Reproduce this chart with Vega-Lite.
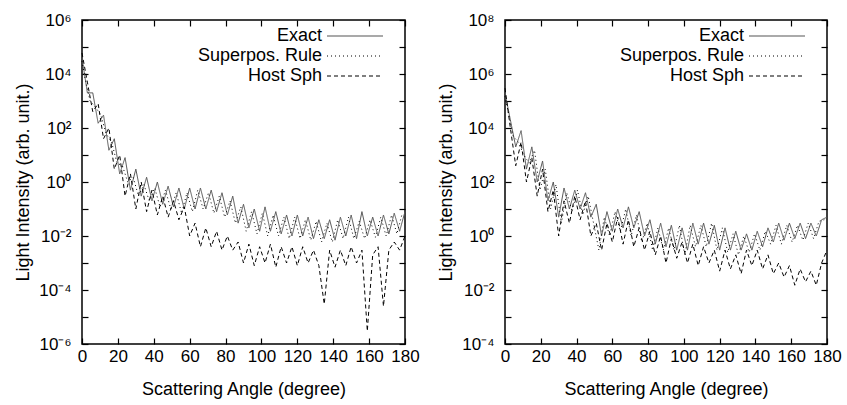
{
  "$schema": "https://vega.github.io/schema/vega-lite/v6.json",
  "padding": {"left": 14, "top": 10, "right": 5, "bottom": 5},
  "config": {
    "font": "Liberation Sans",
    "view": {"stroke": "black", "strokeWidth": 1.5},
    "axis": {"grid": false, "domain": false, "tickColor": "black", "tickSize": -6, "tickWidth": 1.2, "labelColor": "black", "labelFontSize": 17, "titleFontSize": 18, "titleFontWeight": "normal", "titleColor": "black", "labelOverlap": false, "labelFlush": false},
    "axisBottom": {"labelPadding": 10, "titlePadding": 16},
    "axisLeft": {"labelPadding": 17, "titlePadding": 6},
    "legend": {"labelFontSize": 18, "labelColor": "black"}
  },
  "datasets": {
    "left": [
      {"angle":0,"intensity":4e4,"series":"Exact"},{"angle":3,"intensity":2e3,"series":"Exact"},{"angle":6,"intensity":2e3,"series":"Exact"},{"angle":9,"intensity":150,"series":"Exact"},{"angle":12,"intensity":300,"series":"Exact"},{"angle":15,"intensity":15,"series":"Exact"},{"angle":18,"intensity":40,"series":"Exact"},{"angle":21,"intensity":2,"series":"Exact"},{"angle":24,"intensity":8,"series":"Exact"},{"angle":27,"intensity":0.5,"series":"Exact"},{"angle":30,"intensity":3,"series":"Exact"},{"angle":33,"intensity":0.3,"series":"Exact"},{"angle":36,"intensity":1.5,"series":"Exact"},{"angle":39,"intensity":0.2,"series":"Exact"},{"angle":42,"intensity":1,"series":"Exact"},{"angle":45,"intensity":0.15,"series":"Exact"},{"angle":48,"intensity":0.7,"series":"Exact"},{"angle":51,"intensity":0.12,"series":"Exact"},{"angle":54,"intensity":0.6,"series":"Exact"},{"angle":57,"intensity":0.1,"series":"Exact"},{"angle":60,"intensity":0.6,"series":"Exact"},{"angle":63,"intensity":0.1,"series":"Exact"},{"angle":66,"intensity":0.6,"series":"Exact"},{"angle":69,"intensity":0.1,"series":"Exact"},{"angle":72,"intensity":0.5,"series":"Exact"},{"angle":75,"intensity":0.08,"series":"Exact"},{"angle":78,"intensity":0.4,"series":"Exact"},{"angle":81,"intensity":0.06,"series":"Exact"},{"angle":84,"intensity":0.3,"series":"Exact"},{"angle":87,"intensity":0.03,"series":"Exact"},{"angle":90,"intensity":0.15,"series":"Exact"},{"angle":93,"intensity":0.02,"series":"Exact"},{"angle":96,"intensity":0.1,"series":"Exact"},{"angle":99,"intensity":0.015,"series":"Exact"},{"angle":102,"intensity":0.12,"series":"Exact"},{"angle":105,"intensity":0.015,"series":"Exact"},{"angle":108,"intensity":0.08,"series":"Exact"},{"angle":111,"intensity":0.012,"series":"Exact"},{"angle":114,"intensity":0.06,"series":"Exact"},{"angle":117,"intensity":0.01,"series":"Exact"},{"angle":120,"intensity":0.06,"series":"Exact"},{"angle":123,"intensity":0.01,"series":"Exact"},{"angle":126,"intensity":0.05,"series":"Exact"},{"angle":129,"intensity":0.008,"series":"Exact"},{"angle":132,"intensity":0.04,"series":"Exact"},{"angle":135,"intensity":0.008,"series":"Exact"},{"angle":138,"intensity":0.04,"series":"Exact"},{"angle":141,"intensity":0.007,"series":"Exact"},{"angle":144,"intensity":0.05,"series":"Exact"},{"angle":147,"intensity":0.01,"series":"Exact"},{"angle":150,"intensity":0.06,"series":"Exact"},{"angle":153,"intensity":0.008,"series":"Exact"},{"angle":156,"intensity":0.08,"series":"Exact"},{"angle":159,"intensity":0.01,"series":"Exact"},{"angle":162,"intensity":0.05,"series":"Exact"},{"angle":165,"intensity":0.01,"series":"Exact"},{"angle":168,"intensity":0.06,"series":"Exact"},{"angle":171,"intensity":0.012,"series":"Exact"},{"angle":174,"intensity":0.07,"series":"Exact"},{"angle":177,"intensity":0.015,"series":"Exact"},{"angle":180,"intensity":0.08,"series":"Exact"},
      {"angle":0,"intensity":3e4,"series":"Superpos. Rule"},{"angle":1.5,"intensity":8e3,"series":"Superpos. Rule"},{"angle":4.5,"intensity":1e3,"series":"Superpos. Rule"},{"angle":7.5,"intensity":600,"series":"Superpos. Rule"},{"angle":10.5,"intensity":300,"series":"Superpos. Rule"},{"angle":13.5,"intensity":60,"series":"Superpos. Rule"},{"angle":16.5,"intensity":30,"series":"Superpos. Rule"},{"angle":19.5,"intensity":5,"series":"Superpos. Rule"},{"angle":22.5,"intensity":4,"series":"Superpos. Rule"},{"angle":25.5,"intensity":1,"series":"Superpos. Rule"},{"angle":28.5,"intensity":1.5,"series":"Superpos. Rule"},{"angle":31.5,"intensity":0.3,"series":"Superpos. Rule"},{"angle":34.5,"intensity":0.8,"series":"Superpos. Rule"},{"angle":37.5,"intensity":0.2,"series":"Superpos. Rule"},{"angle":40.5,"intensity":0.6,"series":"Superpos. Rule"},{"angle":43.5,"intensity":0.12,"series":"Superpos. Rule"},{"angle":46.5,"intensity":0.5,"series":"Superpos. Rule"},{"angle":49.5,"intensity":0.1,"series":"Superpos. Rule"},{"angle":52.5,"intensity":0.4,"series":"Superpos. Rule"},{"angle":55.5,"intensity":0.07,"series":"Superpos. Rule"},{"angle":58.5,"intensity":0.4,"series":"Superpos. Rule"},{"angle":61.5,"intensity":0.08,"series":"Superpos. Rule"},{"angle":64.5,"intensity":0.5,"series":"Superpos. Rule"},{"angle":67.5,"intensity":0.1,"series":"Superpos. Rule"},{"angle":70.5,"intensity":0.4,"series":"Superpos. Rule"},{"angle":73.5,"intensity":0.07,"series":"Superpos. Rule"},{"angle":76.5,"intensity":0.3,"series":"Superpos. Rule"},{"angle":79.5,"intensity":0.05,"series":"Superpos. Rule"},{"angle":82.5,"intensity":0.2,"series":"Superpos. Rule"},{"angle":85.5,"intensity":0.03,"series":"Superpos. Rule"},{"angle":88.5,"intensity":0.12,"series":"Superpos. Rule"},{"angle":91.5,"intensity":0.015,"series":"Superpos. Rule"},{"angle":94.5,"intensity":0.08,"series":"Superpos. Rule"},{"angle":97.5,"intensity":0.012,"series":"Superpos. Rule"},{"angle":100.5,"intensity":0.07,"series":"Superpos. Rule"},{"angle":103.5,"intensity":0.01,"series":"Superpos. Rule"},{"angle":106.5,"intensity":0.06,"series":"Superpos. Rule"},{"angle":109.5,"intensity":0.01,"series":"Superpos. Rule"},{"angle":112.5,"intensity":0.05,"series":"Superpos. Rule"},{"angle":115.5,"intensity":0.008,"series":"Superpos. Rule"},{"angle":118.5,"intensity":0.05,"series":"Superpos. Rule"},{"angle":121.5,"intensity":0.008,"series":"Superpos. Rule"},{"angle":124.5,"intensity":0.04,"series":"Superpos. Rule"},{"angle":127.5,"intensity":0.007,"series":"Superpos. Rule"},{"angle":130.5,"intensity":0.035,"series":"Superpos. Rule"},{"angle":133.5,"intensity":0.006,"series":"Superpos. Rule"},{"angle":136.5,"intensity":0.03,"series":"Superpos. Rule"},{"angle":139.5,"intensity":0.006,"series":"Superpos. Rule"},{"angle":142.5,"intensity":0.04,"series":"Superpos. Rule"},{"angle":145.5,"intensity":0.008,"series":"Superpos. Rule"},{"angle":148.5,"intensity":0.05,"series":"Superpos. Rule"},{"angle":151.5,"intensity":0.008,"series":"Superpos. Rule"},{"angle":154.5,"intensity":0.035,"series":"Superpos. Rule"},{"angle":157.5,"intensity":0.008,"series":"Superpos. Rule"},{"angle":160.5,"intensity":0.04,"series":"Superpos. Rule"},{"angle":163.5,"intensity":0.009,"series":"Superpos. Rule"},{"angle":166.5,"intensity":0.05,"series":"Superpos. Rule"},{"angle":169.5,"intensity":0.01,"series":"Superpos. Rule"},{"angle":172.5,"intensity":0.06,"series":"Superpos. Rule"},{"angle":175.5,"intensity":0.012,"series":"Superpos. Rule"},{"angle":178.5,"intensity":0.07,"series":"Superpos. Rule"},
      {"angle":0,"intensity":6e4,"series":"Host Sph"},{"angle":3,"intensity":5e3,"series":"Host Sph"},{"angle":6,"intensity":400,"series":"Host Sph"},{"angle":9,"intensity":800,"series":"Host Sph"},{"angle":12,"intensity":40,"series":"Host Sph"},{"angle":15,"intensity":100,"series":"Host Sph"},{"angle":18,"intensity":3,"series":"Host Sph"},{"angle":21,"intensity":10,"series":"Host Sph"},{"angle":24,"intensity":0.3,"series":"Host Sph"},{"angle":27,"intensity":2,"series":"Host Sph"},{"angle":30,"intensity":0.1,"series":"Host Sph"},{"angle":33,"intensity":1,"series":"Host Sph"},{"angle":36,"intensity":0.08,"series":"Host Sph"},{"angle":39,"intensity":0.5,"series":"Host Sph"},{"angle":42,"intensity":0.06,"series":"Host Sph"},{"angle":45,"intensity":0.3,"series":"Host Sph"},{"angle":48,"intensity":0.05,"series":"Host Sph"},{"angle":51,"intensity":0.2,"series":"Host Sph"},{"angle":54,"intensity":0.04,"series":"Host Sph"},{"angle":57,"intensity":0.12,"series":"Host Sph"},{"angle":60,"intensity":0.01,"series":"Host Sph"},{"angle":63,"intensity":0.03,"series":"Host Sph"},{"angle":66,"intensity":0.004,"series":"Host Sph"},{"angle":69,"intensity":0.02,"series":"Host Sph"},{"angle":72,"intensity":0.004,"series":"Host Sph"},{"angle":75,"intensity":0.015,"series":"Host Sph"},{"angle":78,"intensity":0.003,"series":"Host Sph"},{"angle":81,"intensity":0.01,"series":"Host Sph"},{"angle":84,"intensity":0.003,"series":"Host Sph"},{"angle":87,"intensity":0.006,"series":"Host Sph"},{"angle":90,"intensity":0.001,"series":"Host Sph"},{"angle":93,"intensity":0.005,"series":"Host Sph"},{"angle":96,"intensity":0.0008,"series":"Host Sph"},{"angle":99,"intensity":0.004,"series":"Host Sph"},{"angle":102,"intensity":0.001,"series":"Host Sph"},{"angle":105,"intensity":0.005,"series":"Host Sph"},{"angle":108,"intensity":0.0007,"series":"Host Sph"},{"angle":111,"intensity":0.004,"series":"Host Sph"},{"angle":114,"intensity":0.001,"series":"Host Sph"},{"angle":117,"intensity":0.004,"series":"Host Sph"},{"angle":120,"intensity":0.0008,"series":"Host Sph"},{"angle":123,"intensity":0.004,"series":"Host Sph"},{"angle":126,"intensity":0.001,"series":"Host Sph"},{"angle":129,"intensity":0.003,"series":"Host Sph"},{"angle":132,"intensity":0.0008,"series":"Host Sph"},{"angle":135,"intensity":3e-5,"series":"Host Sph"},{"angle":138,"intensity":0.003,"series":"Host Sph"},{"angle":141,"intensity":0.0007,"series":"Host Sph"},{"angle":144,"intensity":0.003,"series":"Host Sph"},{"angle":147,"intensity":0.0008,"series":"Host Sph"},{"angle":150,"intensity":0.004,"series":"Host Sph"},{"angle":153,"intensity":0.001,"series":"Host Sph"},{"angle":156,"intensity":0.003,"series":"Host Sph"},{"angle":159,"intensity":3e-6,"series":"Host Sph"},{"angle":162,"intensity":0.002,"series":"Host Sph"},{"angle":165,"intensity":0.004,"series":"Host Sph"},{"angle":168,"intensity":2.5e-5,"series":"Host Sph"},{"angle":171,"intensity":0.003,"series":"Host Sph"},{"angle":174,"intensity":0.006,"series":"Host Sph"},{"angle":177,"intensity":0.003,"series":"Host Sph"},{"angle":180,"intensity":0.01,"series":"Host Sph"}
    ],
    "right": [
      {"angle":0,"intensity":2e5,"series":"Exact"},{"angle":3,"intensity":2e4,"series":"Exact"},{"angle":6,"intensity":2e3,"series":"Exact"},{"angle":9,"intensity":8e3,"series":"Exact"},{"angle":12,"intensity":300,"series":"Exact"},{"angle":15,"intensity":2e3,"series":"Exact"},{"angle":18,"intensity":100,"series":"Exact"},{"angle":21,"intensity":600,"series":"Exact"},{"angle":24,"intensity":20,"series":"Exact"},{"angle":27,"intensity":100,"series":"Exact"},{"angle":30,"intensity":5,"series":"Exact"},{"angle":33,"intensity":60,"series":"Exact"},{"angle":36,"intensity":10,"series":"Exact"},{"angle":39,"intensity":50,"series":"Exact"},{"angle":42,"intensity":10,"series":"Exact"},{"angle":45,"intensity":40,"series":"Exact"},{"angle":48,"intensity":5,"series":"Exact"},{"angle":51,"intensity":15,"series":"Exact"},{"angle":54,"intensity":1,"series":"Exact"},{"angle":57,"intensity":8,"series":"Exact"},{"angle":60,"intensity":1.5,"series":"Exact"},{"angle":63,"intensity":10,"series":"Exact"},{"angle":66,"intensity":2,"series":"Exact"},{"angle":69,"intensity":12,"series":"Exact"},{"angle":72,"intensity":2,"series":"Exact"},{"angle":75,"intensity":8,"series":"Exact"},{"angle":78,"intensity":1,"series":"Exact"},{"angle":81,"intensity":4,"series":"Exact"},{"angle":84,"intensity":0.5,"series":"Exact"},{"angle":87,"intensity":3,"series":"Exact"},{"angle":90,"intensity":0.4,"series":"Exact"},{"angle":93,"intensity":2.5,"series":"Exact"},{"angle":96,"intensity":0.3,"series":"Exact"},{"angle":99,"intensity":2,"series":"Exact"},{"angle":102,"intensity":0.3,"series":"Exact"},{"angle":105,"intensity":3,"series":"Exact"},{"angle":108,"intensity":0.5,"series":"Exact"},{"angle":111,"intensity":3,"series":"Exact"},{"angle":114,"intensity":0.5,"series":"Exact"},{"angle":117,"intensity":2.5,"series":"Exact"},{"angle":120,"intensity":0.3,"series":"Exact"},{"angle":123,"intensity":2,"series":"Exact"},{"angle":126,"intensity":0.3,"series":"Exact"},{"angle":129,"intensity":1.5,"series":"Exact"},{"angle":132,"intensity":0.3,"series":"Exact"},{"angle":135,"intensity":1.2,"series":"Exact"},{"angle":138,"intensity":0.3,"series":"Exact"},{"angle":141,"intensity":1.5,"series":"Exact"},{"angle":144,"intensity":0.4,"series":"Exact"},{"angle":147,"intensity":2,"series":"Exact"},{"angle":150,"intensity":0.6,"series":"Exact"},{"angle":153,"intensity":3,"series":"Exact"},{"angle":156,"intensity":0.7,"series":"Exact"},{"angle":159,"intensity":3,"series":"Exact"},{"angle":162,"intensity":0.8,"series":"Exact"},{"angle":165,"intensity":3,"series":"Exact"},{"angle":168,"intensity":0.8,"series":"Exact"},{"angle":171,"intensity":3,"series":"Exact"},{"angle":174,"intensity":1,"series":"Exact"},{"angle":177,"intensity":4,"series":"Exact"},{"angle":180,"intensity":5,"series":"Exact"},
      {"angle":0,"intensity":1.5e5,"series":"Superpos. Rule"},{"angle":1.5,"intensity":5e4,"series":"Superpos. Rule"},{"angle":4.5,"intensity":5e3,"series":"Superpos. Rule"},{"angle":7.5,"intensity":3e3,"series":"Superpos. Rule"},{"angle":10.5,"intensity":1e3,"series":"Superpos. Rule"},{"angle":13.5,"intensity":500,"series":"Superpos. Rule"},{"angle":16.5,"intensity":1.5e3,"series":"Superpos. Rule"},{"angle":19.5,"intensity":50,"series":"Superpos. Rule"},{"angle":22.5,"intensity":300,"series":"Superpos. Rule"},{"angle":25.5,"intensity":10,"series":"Superpos. Rule"},{"angle":28.5,"intensity":80,"series":"Superpos. Rule"},{"angle":31.5,"intensity":3,"series":"Superpos. Rule"},{"angle":34.5,"intensity":40,"series":"Superpos. Rule"},{"angle":37.5,"intensity":8,"series":"Superpos. Rule"},{"angle":40.5,"intensity":50,"series":"Superpos. Rule"},{"angle":43.5,"intensity":6,"series":"Superpos. Rule"},{"angle":46.5,"intensity":30,"series":"Superpos. Rule"},{"angle":49.5,"intensity":3,"series":"Superpos. Rule"},{"angle":52.5,"intensity":0.3,"series":"Superpos. Rule"},{"angle":55.5,"intensity":5,"series":"Superpos. Rule"},{"angle":58.5,"intensity":1,"series":"Superpos. Rule"},{"angle":61.5,"intensity":8,"series":"Superpos. Rule"},{"angle":64.5,"intensity":1.5,"series":"Superpos. Rule"},{"angle":67.5,"intensity":10,"series":"Superpos. Rule"},{"angle":70.5,"intensity":1,"series":"Superpos. Rule"},{"angle":73.5,"intensity":6,"series":"Superpos. Rule"},{"angle":76.5,"intensity":0.6,"series":"Superpos. Rule"},{"angle":79.5,"intensity":3,"series":"Superpos. Rule"},{"angle":82.5,"intensity":0.3,"series":"Superpos. Rule"},{"angle":85.5,"intensity":2,"series":"Superpos. Rule"},{"angle":88.5,"intensity":0.3,"series":"Superpos. Rule"},{"angle":91.5,"intensity":2,"series":"Superpos. Rule"},{"angle":94.5,"intensity":0.3,"series":"Superpos. Rule"},{"angle":97.5,"intensity":2.5,"series":"Superpos. Rule"},{"angle":100.5,"intensity":0.2,"series":"Superpos. Rule"},{"angle":103.5,"intensity":2.5,"series":"Superpos. Rule"},{"angle":106.5,"intensity":0.4,"series":"Superpos. Rule"},{"angle":109.5,"intensity":2.5,"series":"Superpos. Rule"},{"angle":112.5,"intensity":0.4,"series":"Superpos. Rule"},{"angle":115.5,"intensity":3,"series":"Superpos. Rule"},{"angle":118.5,"intensity":0.3,"series":"Superpos. Rule"},{"angle":121.5,"intensity":2,"series":"Superpos. Rule"},{"angle":124.5,"intensity":0.25,"series":"Superpos. Rule"},{"angle":127.5,"intensity":1.2,"series":"Superpos. Rule"},{"angle":130.5,"intensity":0.2,"series":"Superpos. Rule"},{"angle":133.5,"intensity":1,"series":"Superpos. Rule"},{"angle":136.5,"intensity":0.25,"series":"Superpos. Rule"},{"angle":139.5,"intensity":1.2,"series":"Superpos. Rule"},{"angle":142.5,"intensity":0.3,"series":"Superpos. Rule"},{"angle":145.5,"intensity":1.5,"series":"Superpos. Rule"},{"angle":148.5,"intensity":0.5,"series":"Superpos. Rule"},{"angle":151.5,"intensity":2.5,"series":"Superpos. Rule"},{"angle":154.5,"intensity":0.5,"series":"Superpos. Rule"},{"angle":157.5,"intensity":2.5,"series":"Superpos. Rule"},{"angle":160.5,"intensity":0.6,"series":"Superpos. Rule"},{"angle":163.5,"intensity":2.5,"series":"Superpos. Rule"},{"angle":166.5,"intensity":0.7,"series":"Superpos. Rule"},{"angle":169.5,"intensity":3,"series":"Superpos. Rule"},{"angle":172.5,"intensity":0.8,"series":"Superpos. Rule"},{"angle":175.5,"intensity":3.5,"series":"Superpos. Rule"},{"angle":178.5,"intensity":4,"series":"Superpos. Rule"},
      {"angle":0,"intensity":3e5,"series":"Host Sph"},{"angle":3,"intensity":1e4,"series":"Host Sph"},{"angle":6,"intensity":400,"series":"Host Sph"},{"angle":9,"intensity":3e3,"series":"Host Sph"},{"angle":12,"intensity":100,"series":"Host Sph"},{"angle":15,"intensity":800,"series":"Host Sph"},{"angle":18,"intensity":30,"series":"Host Sph"},{"angle":21,"intensity":300,"series":"Host Sph"},{"angle":24,"intensity":8,"series":"Host Sph"},{"angle":27,"intensity":50,"series":"Host Sph"},{"angle":30,"intensity":1,"series":"Host Sph"},{"angle":33,"intensity":20,"series":"Host Sph"},{"angle":36,"intensity":3,"series":"Host Sph"},{"angle":39,"intensity":30,"series":"Host Sph"},{"angle":42,"intensity":4,"series":"Host Sph"},{"angle":45,"intensity":20,"series":"Host Sph"},{"angle":48,"intensity":1,"series":"Host Sph"},{"angle":51,"intensity":3,"series":"Host Sph"},{"angle":54,"intensity":0.3,"series":"Host Sph"},{"angle":57,"intensity":3,"series":"Host Sph"},{"angle":60,"intensity":0.6,"series":"Host Sph"},{"angle":63,"intensity":5,"series":"Host Sph"},{"angle":66,"intensity":0.5,"series":"Host Sph"},{"angle":69,"intensity":4,"series":"Host Sph"},{"angle":72,"intensity":0.4,"series":"Host Sph"},{"angle":75,"intensity":2,"series":"Host Sph"},{"angle":78,"intensity":0.3,"series":"Host Sph"},{"angle":81,"intensity":1.5,"series":"Host Sph"},{"angle":84,"intensity":0.2,"series":"Host Sph"},{"angle":87,"intensity":1,"series":"Host Sph"},{"angle":90,"intensity":0.1,"series":"Host Sph"},{"angle":93,"intensity":0.8,"series":"Host Sph"},{"angle":96,"intensity":0.15,"series":"Host Sph"},{"angle":99,"intensity":0.6,"series":"Host Sph"},{"angle":102,"intensity":0.1,"series":"Host Sph"},{"angle":105,"intensity":0.5,"series":"Host Sph"},{"angle":108,"intensity":0.08,"series":"Host Sph"},{"angle":111,"intensity":0.4,"series":"Host Sph"},{"angle":114,"intensity":0.1,"series":"Host Sph"},{"angle":117,"intensity":0.3,"series":"Host Sph"},{"angle":120,"intensity":0.05,"series":"Host Sph"},{"angle":123,"intensity":0.3,"series":"Host Sph"},{"angle":126,"intensity":0.06,"series":"Host Sph"},{"angle":129,"intensity":0.2,"series":"Host Sph"},{"angle":132,"intensity":0.04,"series":"Host Sph"},{"angle":135,"intensity":0.3,"series":"Host Sph"},{"angle":138,"intensity":0.08,"series":"Host Sph"},{"angle":141,"intensity":0.3,"series":"Host Sph"},{"angle":144,"intensity":0.06,"series":"Host Sph"},{"angle":147,"intensity":0.2,"series":"Host Sph"},{"angle":150,"intensity":0.04,"series":"Host Sph"},{"angle":153,"intensity":0.1,"series":"Host Sph"},{"angle":156,"intensity":0.03,"series":"Host Sph"},{"angle":159,"intensity":0.08,"series":"Host Sph"},{"angle":162,"intensity":0.015,"series":"Host Sph"},{"angle":165,"intensity":0.06,"series":"Host Sph"},{"angle":168,"intensity":0.02,"series":"Host Sph"},{"angle":171,"intensity":0.05,"series":"Host Sph"},{"angle":174,"intensity":0.015,"series":"Host Sph"},{"angle":177,"intensity":0.1,"series":"Host Sph"},{"angle":180,"intensity":0.3,"series":"Host Sph"}
    ]
  },
  "hconcat": [
    {
      "width": 323, "height": 324,
      "data": {"name": "left"},
      "resolve": {"axis": {"x": "independent", "y": "independent"}},
      "layer": [
        {
          "mark": {"type": "line", "strokeWidth": 1},
          "encoding": {
            "x": {"field": "angle", "type": "quantitative", "scale": {"domain": [0, 180], "nice": false}, "axis": {"orient": "bottom", "values": [0,20,40,60,80,100,120,140,160,180], "title": "Scattering Angle (degree)"}},
            "y": {"field": "intensity", "type": "quantitative", "scale": {"type": "log", "domain": [1e-6, 1e6], "nice": false}, "axis": {"orient": "left", "values": [1e-6,1e-5,1e-4,1e-3,0.01,0.1,1,10,100,1000,10000,1e5,1e6], "title": "Light Intensity (arb. unit.)", "labelExpr": "datum.value==1e-6?'10⁻⁶':datum.value==1e-4?'10⁻⁴':datum.value==0.01?'10⁻²':datum.value==1?'10⁰':datum.value==100?'10²':datum.value==10000?'10⁴':datum.value==1e6?'10⁶':''"}},
            "color": {"field": "series", "type": "nominal", "scale": {"domain": ["Exact", "Superpos. Rule", "Host Sph"], "range": ["#555555", "#000000", "#000000"]}, "legend": {"orient": "none", "legendX": 264, "legendY": 7, "title": null, "symbolType": "M-4,0L4,0", "symbolSize": 196, "symbolStrokeWidth": 1.2, "labelAlign": "right", "labelOffset": -42, "rowPadding": 2}},
            "strokeDash": {"field": "series", "type": "nominal", "scale": {"domain": ["Exact", "Superpos. Rule", "Host Sph"], "range": [[1, 0], [1, 3], [4, 3]]}, "legend": {"orient": "none", "legendX": 264, "legendY": 7, "title": null, "symbolType": "M-4,0L4,0", "symbolSize": 196, "symbolStrokeWidth": 1.2, "labelAlign": "right", "labelOffset": -42, "rowPadding": 2}}
          }
        },
        {
          "mark": {"type": "line", "opacity": 0},
          "encoding": {
            "x": {"field": "angle", "type": "quantitative", "axis": {"orient": "top", "values": [0,20,40,60,80,100,120,140,160,180], "labels": false, "title": null}},
            "y": {"field": "intensity", "type": "quantitative", "axis": {"orient": "right", "values": [1e-6,1e-5,1e-4,1e-3,0.01,0.1,1,10,100,1000,10000,1e5,1e6], "labels": false, "title": null}}
          }
        }
      ]
    },
    {
      "width": 322, "height": 324,
      "data": {"name": "right"},
      "resolve": {"axis": {"x": "independent", "y": "independent"}},
      "layer": [
        {
          "mark": {"type": "line", "strokeWidth": 1},
          "encoding": {
            "x": {"field": "angle", "type": "quantitative", "scale": {"domain": [0, 180], "nice": false}, "axis": {"orient": "bottom", "values": [0,20,40,60,80,100,120,140,160,180], "title": "Scattering Angle (degree)"}},
            "y": {"field": "intensity", "type": "quantitative", "scale": {"type": "log", "domain": [1e-4, 1e8], "nice": false}, "axis": {"orient": "left", "values": [1e-4,1e-3,0.01,0.1,1,10,100,1000,10000,1e5,1e6,1e7,1e8], "title": "Light Intensity (arb. unit.)", "labelExpr": "datum.value==1e-4?'10⁻⁴':datum.value==0.01?'10⁻²':datum.value==1?'10⁰':datum.value==100?'10²':datum.value==10000?'10⁴':datum.value==1e6?'10⁶':datum.value==1e8?'10⁸':''"}},
            "color": {"field": "series", "type": "nominal", "scale": {"domain": ["Exact", "Superpos. Rule", "Host Sph"], "range": ["#555555", "#000000", "#000000"]}, "legend": {"orient": "none", "legendX": 263, "legendY": 7, "title": null, "symbolType": "M-4,0L4,0", "symbolSize": 196, "symbolStrokeWidth": 1.2, "labelAlign": "right", "labelOffset": -42, "rowPadding": 2}},
            "strokeDash": {"field": "series", "type": "nominal", "scale": {"domain": ["Exact", "Superpos. Rule", "Host Sph"], "range": [[1, 0], [1, 3], [4, 3]]}, "legend": {"orient": "none", "legendX": 263, "legendY": 7, "title": null, "symbolType": "M-4,0L4,0", "symbolSize": 196, "symbolStrokeWidth": 1.2, "labelAlign": "right", "labelOffset": -42, "rowPadding": 2}}
          }
        },
        {
          "mark": {"type": "line", "opacity": 0},
          "encoding": {
            "x": {"field": "angle", "type": "quantitative", "axis": {"orient": "top", "values": [0,20,40,60,80,100,120,140,160,180], "labels": false, "title": null}},
            "y": {"field": "intensity", "type": "quantitative", "axis": {"orient": "right", "values": [1e-4,1e-3,0.01,0.1,1,10,100,1000,10000,1e5,1e6,1e7,1e8], "labels": false, "title": null}}
          }
        }
      ]
    }
  ],
  "spacing": 17,
  "resolve": {"scale": {"x": "independent", "y": "independent", "color": "independent", "strokeDash": "independent"}, "legend": {"color": "independent", "strokeDash": "independent"}}
}
